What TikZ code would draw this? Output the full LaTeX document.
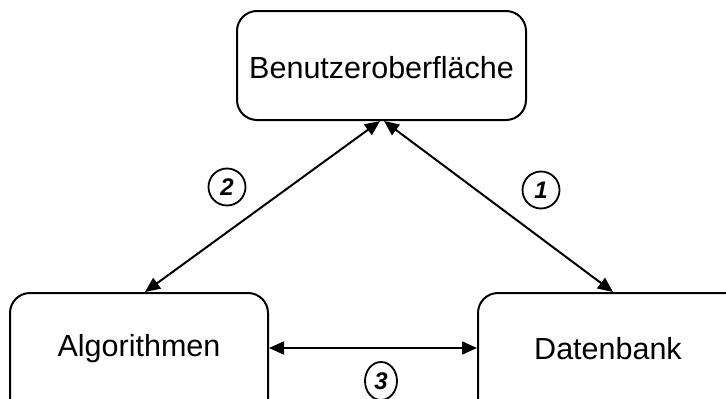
\documentclass[tikz,border=0pt]{standalone}
\usepackage{fontspec}
\setmainfont{Liberation Sans}
\usetikzlibrary{arrows.meta,shapes.geometric}
\begin{document}
\begin{tikzpicture}[x=1pt,y=-1pt,
  box/.style={draw, line width=2pt, rounded corners=20pt, fill=white},
  lbl/.style={font=\fontsize{30.5}{34}\selectfont},
  numfont/.style={font=\fontsize{24}{26}\selectfont\bfseries\itshape},
  num/.style={draw, line width=1.8pt, circle, inner sep=0pt, minimum size=37pt, numfont},
  link/.style={line width=2pt, {Triangle[length=15pt,width=13pt]}-{Triangle[length=15pt,width=13pt]}}]
  \useasboundingbox (0,0) rectangle (726,399);
  \clip (0,0) rectangle (726,399);
  % the three components
  \draw[box] (237,11) rectangle (526,120);
  \node[lbl] (ui) at (381.5,68) {Benutzeroberfläche};
  \coordinate (uiL) at (380,121);
  \coordinate (uiR) at (384,121);
  \draw[box] (10,293) rectangle (268,420);
  \node[lbl] (algo) at (139,349) {Algorithmen};
  \coordinate (algoT) at (145,292);
  \coordinate (algoR) at (269,348);
  \draw[box] (478,293) rectangle (745,420);
  \node[lbl] (db) at (608,349) {Datenbank};
  \coordinate (dbT) at (613,292);
  \coordinate (dbL) at (477,348);
  % connections between them
  \draw[link] (uiL) -- (algoT);
  \draw[link] (uiR) -- (dbT);
  \draw[link] (algoR) -- (dbL);
  % numbered markers
  \node[num] (n1) at (541,190) {1};
  \node[num] (n2) at (227,187) {2};
  \node[draw, line width=1.8pt, ellipse, inner sep=0pt, minimum height=38pt, minimum width=32pt,
    numfont] (n3) at (381,381) {3};
\end{tikzpicture}
\end{document}
